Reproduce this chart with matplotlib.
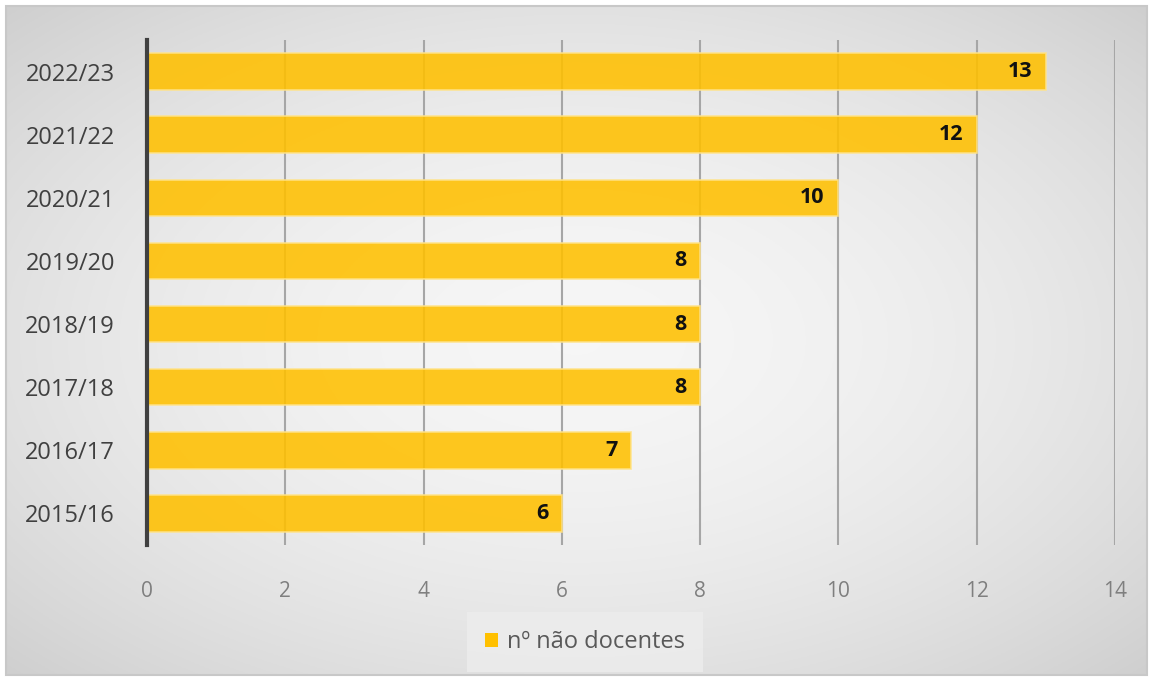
import numpy as np
from matplotlib import pyplot as plt
from matplotlib.patches import Rectangle

# data
anos = ["2015/16", "2016/17", "2017/18", "2018/19", "2019/20", "2020/21", "2021/22", "2022/23"]
nao_docentes = [6, 7, 8, 8, 8, 10, 12, 13]
serie = "nº não docentes"
xticks = [0, 2, 4, 6, 8, 10, 12, 14]

plt.rcParams['font.family'] = ['Open Sans', 'DejaVu Sans']

W, H = 1153, 681
fig = plt.figure(figsize=(W / 100, H / 100), dpi=100)
fig.patch.set_facecolor("white")

# radial grey gradient background
bg = fig.add_axes([6 / W, 6 / H, 1 - 12 / W, 1 - 12 / H])
yy, xx = np.mgrid[-1:1:300j, -1:1:500j]
r = np.sqrt((xx * 0.85) ** 2 + (yy * 0.85) ** 2)
g = 0.965 - 0.11 * np.clip(r, 0, 1.3) ** 1.8
bg.imshow(np.dstack([g, g, g]), aspect="auto", extent=[0, 1, 0, 1])
bg.set_axis_off()
fig.patches.append(Rectangle((6 / W, 6 / H), 1 - 12 / W, 1 - 12 / H, transform=fig.transFigure,
                             fill=False, edgecolor="#c8c8c8", linewidth=1.5))

ax = fig.add_axes([147 / W, 1 - 545 / H, (1115 - 147) / W, (545 - 40) / H])
ax.patch.set_alpha(0)

y = np.arange(len(anos))
ax.barh(y, nao_docentes, height=0.58, color="#FFC000", alpha=0.88,
        edgecolor="#FFE38A", linewidth=1.2, zorder=3, label=serie)
for yi, v in zip(y, nao_docentes):
    ax.text(v - 0.2, yi, str(v), ha="right", va="center", fontsize=15.5,
            fontweight="bold", color="#111111", zorder=4)

ax.set_xlim(0, 14)
ax.set_ylim(-0.5, 7.5)
ax.set_xticks(xticks)
ax.set_yticks(y)
ax.set_yticklabels(anos)
ax.grid(axis="x", color="#a6a6a6", linewidth=1.5, zorder=1)
ax.tick_params(axis="x", length=0, pad=26, labelsize=15, labelcolor="#7f7f7f")
ax.tick_params(axis="y", length=0, pad=23, labelsize=17, labelcolor="#404040")
for s in ["top", "right", "bottom"]:
    ax.spines[s].set_visible(False)
ax.spines["left"].set_color("#404040")
ax.spines["left"].set_linewidth(3)
ax.spines["left"].set_zorder(5)

leg = fig.legend(loc="center", bbox_to_anchor=(585 / W, 1 - 642 / H), fontsize=17,
                 frameon=True, fancybox=False, handlelength=0.55, handleheight=0.55,
                 handletextpad=0.4, borderpad=0.75, borderaxespad=0)
leg.get_frame().set_facecolor("#ececec")
leg.get_frame().set_edgecolor("none")
leg.get_frame().set_alpha(0.9)
for t in leg.get_texts():
    t.set_color("#595959")
for h in leg.legend_handles:
    h.set_edgecolor("none")
    h.set_alpha(1)

fig.savefig("out.png", dpi=100)
